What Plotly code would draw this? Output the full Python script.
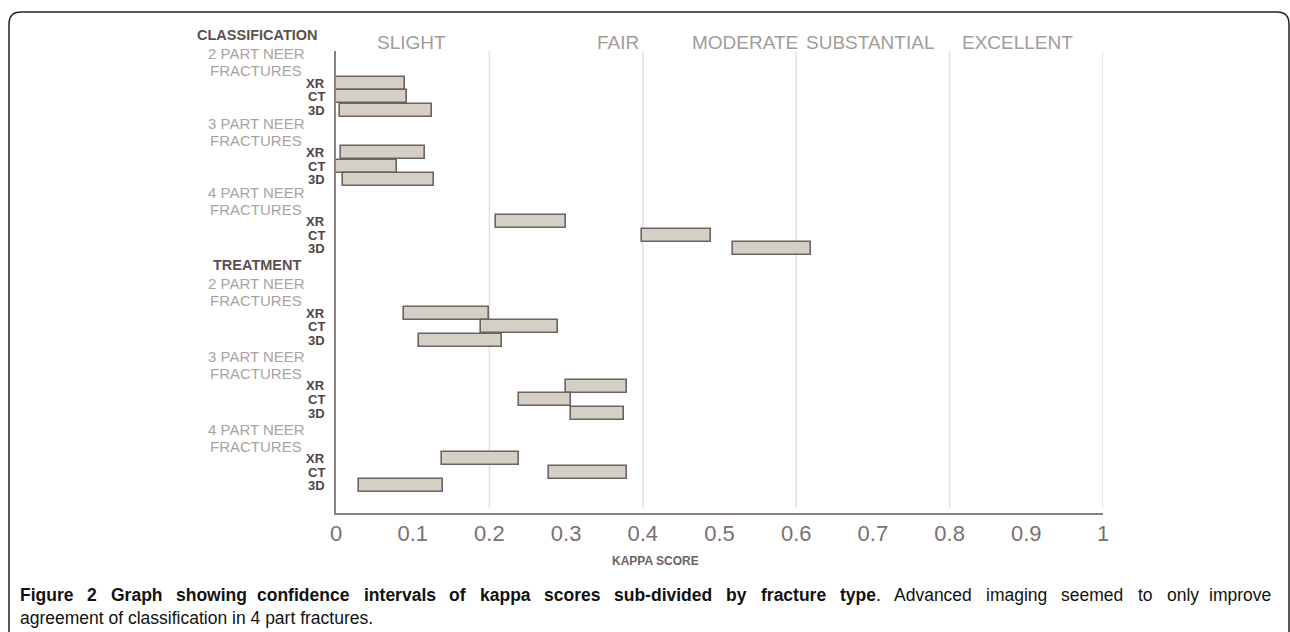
import plotly.graph_objects as go

# ---------------- data ----------------
sections = ["CLASSIFICATION", "TREATMENT"]
group_lines = ["PART NEER", "FRACTURES"]
group_parts = ["2", "3", "4"]
modalities = ["XR", "CT", "3D"]

# confidence interval bounds, order: class 2/3/4 part, treatment 2/3/4 part
xr_low = [0.000, 0.007, 0.208, 0.089, 0.300, 0.138]
xr_high = [0.090, 0.116, 0.300, 0.200, 0.379, 0.239]
ct_low = [0.000, 0.000, 0.399, 0.189, 0.238, 0.278]
ct_high = [0.092, 0.080, 0.489, 0.289, 0.307, 0.379]
d3_low = [0.005, 0.009, 0.518, 0.108, 0.307, 0.030]
d3_high = [0.125, 0.128, 0.619, 0.217, 0.376, 0.139]

bands = ["SLIGHT", "FAIR", "MODERATE", "SUBSTANTIAL", "EXCELLENT"]
band_label_x = [0.099, 0.368, 0.533, 0.696, 0.888]
tick_vals = [0, 0.1, 0.2, 0.3, 0.4, 0.5, 0.6, 0.7, 0.8, 0.9, 1]
tick_text = ["0", "0.1", "0.2", "0.3", "0.4", "0.5", "0.6", "0.7", "0.8", "0.9", "1"]
x_title = "KAPPA SCORE"
caption_bold = "Figure 2 Graph showing confidence intervals of kappa scores sub-divided by fracture type"
caption_rest = ". Advanced imaging seemed to only improve"
caption_line2 = "agreement of classification in 4 part fractures."

# ---------------- layout geometry (pixel units) ----------------
W, H = 1290, 632
L, R = 336, 1103          # x = 0 and x = 1
TOP, BOT = 51, 513        # plot area top / bottom
ROW = 13.6
first_bar = 83.3
gaps = [42, 42, 64.4, 45.5, 45.5]   # between groups


def px_x(p):
    return (p - L) / (R - L)


def px_y(p):
    return (BOT - p) / (BOT - TOP)


lows = [xr_low, ct_low, d3_low]
highs = [xr_high, ct_high, d3_high]

ypos, base, length = [], [], []
group_first = []
y = first_bar
for g in range(6):
    group_first.append(y)
    for m in range(3):
        yy = y + m * ROW
        ypos.append(yy)
        base.append(lows[m][g])
        length.append(highs[m][g] - lows[m][g])
    if g < 5:
        y = y + 2 * ROW + gaps[g]

fig = go.Figure()
fig.add_trace(go.Bar(
    orientation="h", y=ypos, x=length, base=base, width=13,
    marker=dict(color="#d4d0c6", line=dict(color="#6f615f", width=1.6)),
    hoverinfo="skip", showlegend=False,
))

FONT = "Liberation Sans"
ann = []


def label(xp, yp, text, size, color, anchor="center"):
    ann.append(dict(x=px_x(xp), y=px_y(yp), xref="paper", yref="paper", text=text,
                    showarrow=False, xanchor=anchor, yanchor="middle",
                    font=dict(family=FONT, size=size, color=color)))


for g in range(6):
    for m in range(3):
        label(327, group_first[g] + m * ROW, "<b>" + modalities[m] + "</b>", 13, "#4f4545", "right")
    part = group_parts[g % 3]
    label(256, group_first[g] - 29.5, part + " " + group_lines[0], 15, "#aba3a1")
    label(256, group_first[g] - 12.5, group_lines[1], 15, "#aba3a1")
    if g % 3 == 0:
        label(257, group_first[g] - 48.5, "<b>" + sections[g // 3] + "</b>", 14.5, "#5c5050")

for b, bx in zip(bands, band_label_x):
    ann.append(dict(x=bx, y=px_y(42), xref="x", yref="paper", text=b, showarrow=False,
                    xanchor="center", yanchor="middle",
                    font=dict(family=FONT, size=19, color="#a39b99")))

label(655, 561, "<b>" + x_title + "</b>", 12, "#6d6161")

# ---- justified caption line 1 (Arial-metric width estimates) ----
REG = dict(zip("Aacdegilmnoprtuvy.2-", [667, 556, 500, 556, 556, 556, 222, 222, 833, 556, 556,
                                          556, 333, 278, 556, 500, 500, 278, 556, 333]))
BOLD = dict(zip("FGabcdefghiklmnoprstuvy2-",
                [611, 778, 556, 611, 556, 611, 556, 333, 611, 611, 278, 556, 278, 889, 611,
                 611, 611, 389, 556, 333, 611, 556, 556, 556, 333]))
CAP = 17.5


def wlen(word, bold):
    tbl = BOLD if bold else REG
    return sum(tbl.get(c, 556) for c in word) * CAP / 1000.0


tokens = []  # (html, width)
bw = caption_bold.split(" ")
rw = caption_rest.split(" ")
for w in bw[:-1]:
    tokens.append(("<b>" + w + "</b>", wlen(w, True)))
# last bold word joined with the period
tokens.append(("<b>" + bw[-1] + "</b>" + rw[0], wlen(bw[-1], True) + wlen(rw[0], False)))
for w in rw[1:]:
    tokens.append((w, wlen(w, False)))

x_start, x_end = 18, 1273
total = sum(t[1] for t in tokens)
space = (x_end - x_start - total) / (len(tokens) - 1)
xc = x_start
for i, (txt, wd) in enumerate(tokens):
    if i == len(tokens) - 1:
        label(x_end, 595, txt, CAP, "#111111", "right")
    else:
        label(xc, 595, txt, CAP, "#111111", "left")
    xc += wd + space

label(18, 618, caption_line2, CAP, "#111111", "left")

# frame (rounded top-left / top-right)
fx0, fx1, fy0, fyb = 9, 1289, 12, 660
path = ("M {a},{b} L {a},{c} Q {a},{d} {e},{d} L {f},{d} Q {g},{d} {g},{c} L {g},{b}").format(
    a=px_x(fx0), b=px_y(fyb), c=px_y(fy0 + 12), d=px_y(fy0), e=px_x(fx0 + 12),
    f=px_x(fx1 - 12), g=px_x(fx1))
shapes = [dict(type="path", path=path, xref="paper", yref="paper",
               line=dict(color="#222222", width=1.5), layer="above")]

fig.update_layout(
    width=W, height=H,
    margin=dict(l=L, r=W - R, t=TOP, b=H - BOT, pad=0),
    paper_bgcolor="white", plot_bgcolor="white",
    bargap=0,
    xaxis=dict(range=[0, 1], tickvals=tick_vals, ticktext=tick_text, ticks="",
               showgrid=False, zeroline=False,
               showline=True, linecolor="#8d8180", linewidth=2,
               tickfont=dict(family=FONT, size=22, color="#7b7171"),
               ticklabelstandoff=0),
    yaxis=dict(range=[BOT, TOP], showticklabels=False, ticks="", showgrid=False,
               zeroline=False, showline=True, linecolor="#8d8180", linewidth=2),
    annotations=ann,
    shapes=shapes + [dict(type="line", xref="x", yref="paper", x0=v, x1=v, y0=px_y(508), y1=1,
                          line=dict(color="#e3e1e1", width=1.5), layer="below")
                     for v in [0.2, 0.4, 0.6, 0.8, 1.0]],
)

fig.write_html("out.html", config={"displayModeBar": False},
               post_script="document.body.style.margin='0';document.body.style.overflow='hidden';")
